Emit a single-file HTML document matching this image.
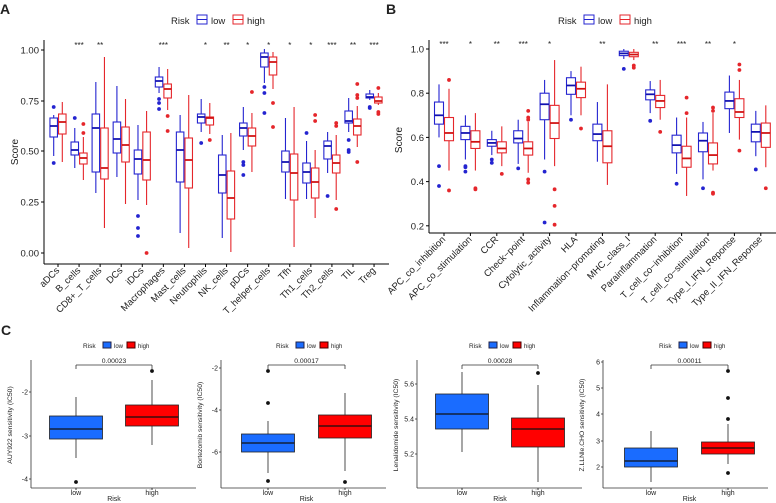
<!DOCTYPE html>
<html><head><meta charset="utf-8"><style>
body{margin:0;background:#fff}
svg{display:block;font-family:"Liberation Sans",Arial,sans-serif}
</style></head><body>
<svg id="s" width="776" height="503" viewBox="0 0 776 503" xmlns="http://www.w3.org/2000/svg"></svg>
<script>
const S=document.getElementById('s');let h='';
const LB='#2424d0',HB='#e5262b',LBm='#1010b0',HBm='#d01010';
function ln(x1,y1,x2,y2,c,w){h+=`<line x1="${x1}" y1="${y1}" x2="${x2}" y2="${y2}" stroke="${c}" stroke-width="${w||1}"/>`;}
function tx(x,y,t,s,a,extra){h+=`<text x="${x}" y="${y}" font-size="${s}" text-anchor="${a||'start'}" fill="#222" ${extra||''}>${t}</text>`;}
function box(cx,w,q1,md,q3,wl,wh,outs,col,fill,medc,ow){
 ln(cx,wh,cx,q3,col,ow);ln(cx,q1,cx,wl,col,ow);
 h+=`<rect x="${cx-w/2}" y="${q3}" width="${w}" height="${q1-q3}" fill="${fill}" stroke="${col}" stroke-width="${ow}"/>`;
 ln(cx-w/2,md,cx+w/2,md,medc,ow*1.6);
 outs.forEach(o=>h+=`<circle cx="${cx}" cy="${o}" r="1.9" fill="${fill=='#fff'?col:'#111'}"/>`);
}
function legAB(x,y){
 tx(x,y+4,'Risk',9.5);
 h+=`<rect x="${x+26}" y="${y-5}" width="10" height="9" fill="#fff" stroke="${LB}"/>`;ln(x+26,y-0.5,x+36,y-0.5,LB);
 tx(x+40,y+4,'low',9.5);
 h+=`<rect x="${x+62}" y="${y-5}" width="10" height="9" fill="#fff" stroke="${HB}"/>`;ln(x+62,y-0.5,x+72,y-0.5,HB);
 tx(x+76,y+4,'high',9.5);
}
tx(0,14,'A',14,'start','font-weight="bold" fill="#000"');
legAB(171,20);
ln(44,40,44,264,'#000');ln(44,264,389,264,'#000');
[[1,50],[.75,101],[.5,151],[.25,202],[0,253]].forEach(([v,y])=>{ln(41,y,44,y,'#000');tx(39,y+3.5,v.toFixed(2),9.5,'end');});
tx(18,152,'Score',10,'middle','transform="rotate(-90 18 152)"');
const A=[
['aDCs','',[137,126,118,156,115,[107,163]],[134,122,114,162,102,[]]],
['B_cells','***',[155,150,142,168,128,[118]],[164,158,153,180,137,[124,133]]],
['CD8+_T_cells','**',[172,128,114,193,82,[]],[179,168,128,228,57,[]]],
['DCs','',[153,139,122,177,86,[]],[162,145,127,204,99,[]]],
['iDCs','',[174,159,150,200,125,[216,228,236]],[180,160,132,205,111,[253]]],
['Macrophages','***',[87,81,77,93,67,[99,103,109]],[98,89,84,110,69,[116,131]]],
['Mast_cells','',[182,150,132,233,115,[]],[188,160,138,248,95,[]]],
['Neutrophils','*',[123,117,114,132,99,[143]],[125,118,117,134,103,[140]]],
['NK_cells','**',[193,175,155,238,135,[]],[219,198,171,252,133,[]]],
['pDCs','*',[136,128,123,150,107,[162,165,175]],[146,136,128,172,113,[92]]],
['T_helper_cells','*',[67,57,53,83,49,[87,93,113]],[75,62,57,89,52,[103,127]]],
['Tfh','*',[172,162,151,199,118,[]],[200,173,154,247,107,[]]],
['Th1_cells','*',[183,172,163,199,141,[133]],[198,182,168,218,150,[115,121]]],
['Th2_cells','***',[159,146,141,173,132,[196]],[173,163,155,200,135,[123,126,209]]],
['TIL','**',[123,121,111,132,98,[140,150,152]],[135,126,119,147,106,[84,95,98,162]]],
['Treg','***',[98,97,94,100,90,[107,108]],[103,101,97,105,93,[88,112,114]]]];
A.forEach((d,i)=>{const c=58+21.07*i;
 box(c-4.3,7.5,d[2][0],d[2][1],d[2][2],d[2][3],d[2][4],d[2][5],LB,'#fff',LBm,1.1);
 box(c+4.3,7.5,d[3][0],d[3][1],d[3][2],d[3][3],d[3][4],d[3][5],HB,'#fff',HBm,1.1);
 ln(c,264,c,267,'#000');
 if(d[1])tx(c,48,d[1],8,'middle');
 tx(c+2,271,d[0],9.5,'end',`transform="rotate(-45 ${c+2} 271)"`);
});
tx(386,14,'B',14,'start','font-weight="bold" fill="#000"');
legAB(558,20);
const yb=v=>49+(1-v)*221;
ln(429,40,429,233,'#000');ln(429,233,776,233,'#000');
[1,.8,.6,.4,.2].forEach(v=>{const y=yb(v);ln(426,y,429,y,'#000');tx(424,y+3.5,v.toFixed(1),9.5,'end');});
tx(402,140,'Score',10,'middle','transform="rotate(-90 402 140)"');
const B=[
['APC_co_inhibition','***',[.66,.70,.76,.60,.84,[.47,.38]],[.585,.62,.69,.45,.82,[.86,.36]]],
['APC_co_stimulation','*',[.59,.62,.65,.50,.70,[.47,.465,.445]],[.55,.58,.63,.45,.71,[.37,.365]]],
['CCR','**',[.56,.575,.59,.52,.63,[.50,.485]],[.53,.55,.58,.47,.65,[.435]]],
['Check−point','***',[.575,.595,.63,.48,.68,[.46]],[.52,.55,.58,.44,.67,[.72,.69,.68,.41,.395]]],
['Cytolytic_activity','*',[.68,.75,.80,.50,.86,[.445,.215]],[.595,.665,.745,.47,.95,[.365,.29,.205]]],
['HLA','',[.795,.835,.87,.70,.90,[.68]],[.78,.82,.85,.70,.92,[.64]]],
['Inflammation−promoting','**',[.585,.615,.66,.49,.76,[]],[.485,.56,.63,.385,.84,[]]],
['MHC_class_I','',[.97,.98,.99,.955,1.0,[.91]],[.965,.975,.985,.95,1.0,[.925,.915]]],
['Parainflammation','**',[.77,.795,.815,.71,.855,[.675]],[.735,.765,.79,.68,.86,[.625]]],
['T_cell_co−inhibition','***',[.53,.565,.61,.435,.69,[.39]],[.465,.505,.56,.335,.69,[.78,.71]]],
['T_cell_co−stimulation','**',[.535,.585,.62,.41,.67,[.37]],[.48,.52,.575,.45,.71,[.735,.72,.35,.345]]],
['Type_I_IFN_Reponse','*',[.73,.765,.805,.62,.88,[]],[.69,.715,.775,.59,.86,[.93,.905,.54]]],
['Type_II_IFN_Reponse','',[.58,.625,.66,.515,.72,[.455]],[.555,.62,.665,.465,.745,[.37]]]];
B.forEach((d,i)=>{const c=444+26.4*i;
 const L=d[2],H=d[3];
 box(c-5,9,yb(L[0]),yb(L[1]),yb(L[2]),yb(L[3]),yb(L[4]),L[5].map(yb),LB,'#fff',LBm,1.1);
 box(c+5,9,yb(H[0]),yb(H[1]),yb(H[2]),yb(H[3]),yb(H[4]),H[5].map(yb),HB,'#fff',HBm,1.1);
 ln(c,233,c,236,'#000');
 if(d[1])tx(c,47,d[1],8,'middle');
 tx(c+2,240,d[0],9.5,'end',`transform="rotate(-45 ${c+2} 240)"`);
});
tx(1,335,'C',14,'start','font-weight="bold" fill="#000"');
const CL='#1a6cff',CH='#ff0000';
function legC(x,y){tx(x,y+3,'Risk',6.5);
 h+=`<rect x="${x+20}" y="${y-3}" width="8" height="6" fill="${CL}" stroke="#224"/>`;tx(x+31,y+3,'low',6);
 h+=`<rect x="${x+44}" y="${y-3}" width="8" height="6" fill="${CH}" stroke="#400"/>`;tx(x+55,y+3,'high',6);}
function pc(ax,lx,hx,ticks,L,H,p,ylab,lgx){
 ln(ax,360,ax,488,'#333',0.8);ln(ax,488,ax+165,488,'#333',0.8);
 ticks.forEach(([t,y])=>{ln(ax-2,y,ax,y,'#333',0.8);tx(ax-3,y+2.5,t,7,'end','fill="#444"');});
 ln(lx,488,lx,490,'#333');ln(hx,488,hx,490,'#333');
 tx(lx,495,'low',7,'middle','fill="#444"');tx(hx,495,'high',7,'middle','fill="#444"');
 tx((lx+hx)/2,501,'Risk',7,'middle');
 tx(ax-19,425,ylab,6.8,'middle',`transform="rotate(-90 ${ax-19} 425)"`);
 box(lx,53,L[0],L[1],L[2],L[3],L[4],L[5],'#222',CL,'#111',0.8);
 box(hx,53,H[0],H[1],H[2],H[3],H[4],H[5],'#222',CH,'#111',0.8);
 ln(lx,365,hx,365,'#333',0.8);ln(lx,365,lx,369,'#333',0.8);ln(hx,365,hx,369,'#333',0.8);
 tx((lx+hx)/2,363,p,6.8,'middle');
 legC(lgx,345);
}
pc(31,76,152,[['-2',392],['-3',436],['-4',479]],[439,429,416,458,397,[482]],[426,417,405,445,380,[371]],'0.00023','AUY922 sensitivity (IC50)',83);
pc(221,268,345,[['-2',368],['-4',410],['-6',452]],[452,443,434,473,421,[371,403,481]],[438,426,415,471,393,[482]],'0.00017','Bortezomib sensitivity (IC50)',276);
pc(417,462,538,[['5.6',384],['5.4',419],['5.2',454]],[429,414,394,452,372,[]],[447,429,418,482,385,[373]],'0.00028','Lenalidomide sensitivity (IC50)',469);
pc(603,651,728,[['6',362],['5',388],['4',414],['3',441],['2',467]],[467,461,448,482,431,[]],[454,448,442,464,424,[371,398,419,473]],'0.00011','Z.LLNle.CHO sensitivity (IC50)',659);
S.innerHTML=h;
</script>
</body></html>
